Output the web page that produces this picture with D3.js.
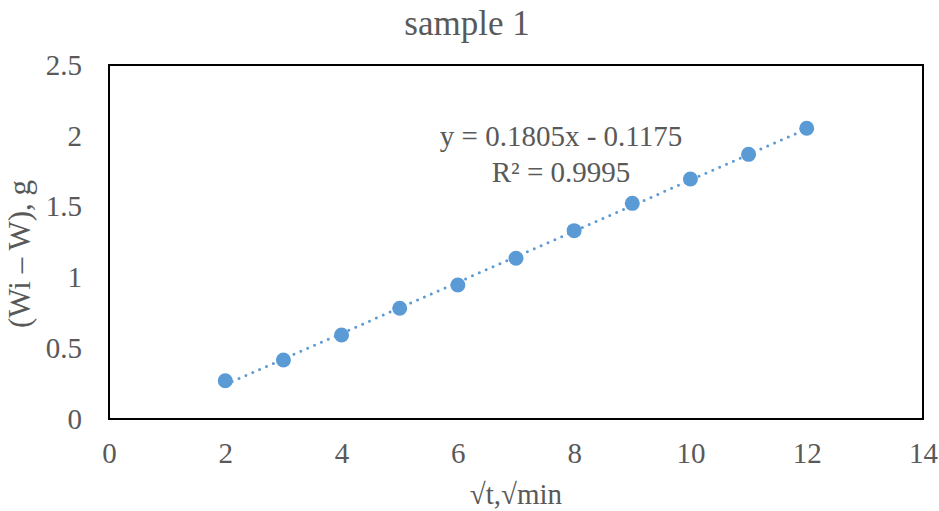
<!DOCTYPE html>
<html><head><meta charset="utf-8">
<script src="https://cdn.jsdelivr.net/npm/d3@7"></script>
<style>body{margin:0;background:#fff}svg{display:block}text{font-family:"Liberation Serif","Times New Roman",serif;fill:#595959}</style>
</head><body>
<svg id="c" width="939" height="511"></svg>
<script>
const xValues = [2,3,4,5,6,7,8,9,10,11,12];
const yValues = [0.270,0.417,0.593,0.782,0.946,1.135,1.330,1.523,1.695,1.869,2.053];
const xTicks = [0,2,4,6,8,10,12,14];
const yTicks = [0,0.5,1,1.5,2,2.5];
const slope = 0.1805, intercept = -0.1175;
const eqLines = ["y = 0.1805x - 0.1175","R² = 0.9995"];

const svg = d3.select("#c");
const m = {l:109,t:65,r:923,b:419};
const x = d3.scaleLinear().domain([0,14]).range([m.l,m.r]);
const y = d3.scaleLinear().domain([0,2.5]).range([m.b,m.t]);
const color = "#5B9BD5";

svg.append("text").attr("x",467).attr("y",35).attr("text-anchor","middle").style("font-size","35px").text("sample 1");

const xa = svg.append("g").attr("transform",`translate(0,${m.b})`)
  .call(d3.axisBottom(x).tickValues(xTicks).tickSize(0).tickPadding(23).tickFormat(d3.format("d")));
xa.select(".domain").remove();
xa.selectAll("text").style("font-size","29px").attr("fill","#595959");
const ya = svg.append("g").attr("transform",`translate(${m.l},0)`)
  .call(d3.axisLeft(y).tickValues(yTicks).tickSize(0).tickPadding(27).tickFormat(d=>String(d)));
ya.select(".domain").remove();
ya.selectAll("text").style("font-size","29px").attr("fill","#595959");

svg.append("rect").attr("x",m.l).attr("y",m.t).attr("width",m.r-m.l).attr("height",m.b-m.t)
  .attr("fill","none").attr("stroke","#000").attr("stroke-width",2);

const x0 = d3.min(xValues), x1 = d3.max(xValues);
svg.append("line").attr("x1",x(x0)).attr("y1",y(slope*x0+intercept)).attr("x2",x(x1)).attr("y2",y(slope*x1+intercept))
  .attr("stroke",color).attr("stroke-width",3).attr("stroke-dasharray","0 7.5").attr("stroke-linecap","round");

svg.append("g").selectAll("circle").data(xValues).join("circle")
  .attr("cx",d=>x(d)).attr("cy",(d,i)=>y(yValues[i])).attr("r",7.5).attr("fill",color);

const eq = svg.append("text").attr("text-anchor","middle").style("font-size","29px");
eqLines.forEach((t,i)=>eq.append("tspan").attr("x",561).attr("y",146+i*36).text(t));

svg.append("text").attr("transform","translate(30,254) rotate(-90)").attr("text-anchor","middle").style("font-size","31px").text("(Wi – W), g");
svg.append("text").attr("x",516).attr("y",504).attr("text-anchor","middle").style("font-size","29px").text("√t,√min");
</script>
</body></html>
